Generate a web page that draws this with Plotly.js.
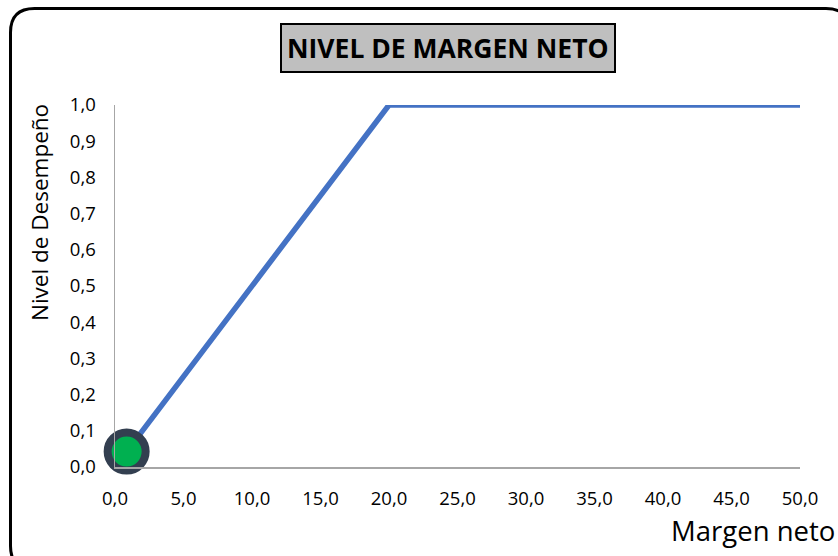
<!DOCTYPE html>
<html>
<head>
<meta charset="utf-8">
<script src="https://cdn.plot.ly/plotly-3.0.1.min.js"></script>
<style>
  html, body { margin: 0; padding: 0; background: #fff; }
  #chart { width: 838px; height: 556px; }
</style>
</head>
<body>
<div id="chart"></div>
<script>
// Performance curve: level rises linearly up to 20 % net margin, then stays at 1
const margenNeto = [0, 20, 50];
const nivelDesempeno = [0, 1, 1];

// Current company position
const margenActual = [0.85];
const nivelActual = [0.0425];

const xTicks = [0, 5, 10, 15, 20, 25, 30, 35, 40, 45, 50];
const yTicks = [0, 0.1, 0.2, 0.3, 0.4, 0.5, 0.6, 0.7, 0.8, 0.9, 1.0];

const fmt = v => v.toFixed(1).replace('.', ',');

const W = 838, H = 556;
const M = { l: 115, r: 38, t: 105, b: 89 };
const pw = W - M.l - M.r, ph = H - M.t - M.b;
// pixel -> paper helpers for the decorations
const px = x => (x - M.l) / pw;
const py = y => (H - M.b - y) / ph;

// Rounded outer frame (runs past the right and bottom edges)
function roundedRect(x0, y0, x1, y1, r) {
  return [
    'M', px(x0 + r), py(y0),
    'L', px(x1 - r), py(y0),
    'Q', px(x1), py(y0), px(x1), py(y0 + r),
    'L', px(x1), py(y1 - r),
    'Q', px(x1), py(y1), px(x1 - r), py(y1),
    'L', px(x0 + r), py(y1),
    'Q', px(x0), py(y1), px(x0), py(y1 - r),
    'L', px(x0), py(y0 + r),
    'Q', px(x0), py(y0), px(x0 + r), py(y0), 'Z'
  ].join(' ');
}

const tickFont = { family: 'Open Sans, sans-serif', size: 18.5, color: '#000000' };

const traces = [
  {
    x: margenNeto, y: nivelDesempeno,
    type: 'scatter', mode: 'lines',
    line: { color: '#4472C4', width: 5.5 },
    hoverinfo: 'skip', cliponaxis: false
  },
  {
    x: margenActual, y: nivelActual,
    type: 'scatter', mode: 'markers',
    marker: { color: '#00B050', size: 38, line: { color: '#333F50', width: 8 } },
    cliponaxis: false
  }
];

const layout = {
  width: W, height: H,
  margin: M,
  showlegend: false,
  paper_bgcolor: '#ffffff',
  plot_bgcolor: '#ffffff',
  xaxis: {
    range: [0, 50],
    tickvals: xTicks, ticktext: xTicks.map(fmt),
    showgrid: false, zeroline: false,
    showline: true, linecolor: '#A6A6A6', linewidth: 1.5,
    ticks: 'outside', ticklen: 14, tickcolor: 'rgba(0,0,0,0)',
    tickfont: tickFont
  },
  yaxis: {
    range: [0, 1],
    tickvals: yTicks, ticktext: yTicks.map(fmt),
    showgrid: false, zeroline: false,
    showline: true, linecolor: '#A6A6A6', linewidth: 1.5,
    ticks: 'outside', ticklen: 14, tickcolor: 'rgba(0,0,0,0)',
    tickfont: tickFont
  },
  shapes: [
    {
      type: 'path', xref: 'paper', yref: 'paper',
      path: roundedRect(10.5, 8.5, 850, 570, 24),
      line: { color: '#000000', width: 3 }, layer: 'above'
    }
  ],
  annotations: [
    {
      text: '<b>NIVEL DE MARGEN NETO</b>',
      xref: 'paper', yref: 'paper',
      x: px(448), y: py(48), xanchor: 'center', yanchor: 'middle',
      showarrow: false,
      font: { family: 'Open Sans, sans-serif', size: 26.5, color: '#000000' },
      bgcolor: '#BFBFBF', bordercolor: '#000000', borderwidth: 2, borderpad: 5
    },
    {
      text: 'Nivel de Desempeño',
      xref: 'paper', yref: 'paper',
      x: px(39), y: py(213), xanchor: 'center', yanchor: 'middle',
      textangle: -90, showarrow: false,
      font: { family: 'Open Sans, sans-serif', size: 22.5, color: '#000000' }
    },
    {
      text: 'Margen neto',
      xref: 'paper', yref: 'paper',
      x: px(669), y: py(530), xanchor: 'left', yanchor: 'middle',
      showarrow: false,
      font: { family: 'Open Sans, sans-serif', size: 27.5, color: '#000000' }
    }
  ]
};

Plotly.newPlot('chart', traces, layout, { displayModeBar: false, staticPlot: true });
</script>
</body>
</html>
